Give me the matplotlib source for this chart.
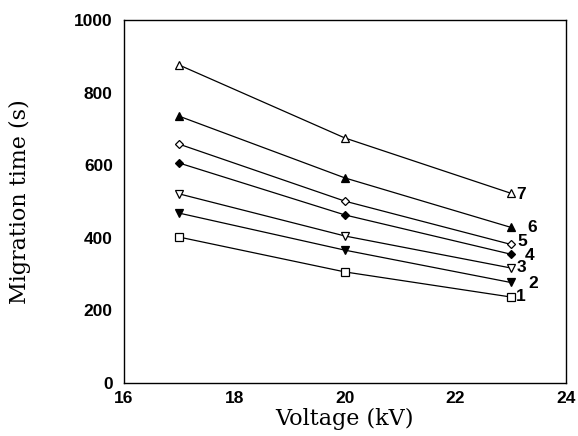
import matplotlib
matplotlib.use('Agg')
import matplotlib.pyplot as plt

###############################################################################
# Data
###############################################################################
voltage = [17, 20, 23]
series1 = [402, 306, 237]
series2 = [468, 366, 277]
series3 = [521, 405, 317]
series4 = [606, 463, 355]
series5 = [658, 501, 382]
series6 = [735, 565, 429]
series7 = [876, 675, 523]
labels = ['1', '2', '3', '4', '5', '6', '7']

###############################################################################
# Styles
###############################################################################
allSeries = [series1, series2, series3, series4, series5, series6, series7]
markers = ['s', 'v', 'v', 'D', 'D', '^', '^']
filled = [False, True, False, True, False, True, False]
msizes = [5.5, 6, 6, 4.5, 4.5, 6, 6]
# label offsets in points (dx, dy)
offsets = [(4, 0), (13, -1), (4, 0), (10, -1), (5, 2), (12, 0), (4, -1)]
tickFont = {'family': 'Liberation Sans', 'weight': 'bold', 'size': 12.5}
labFont = {'family': 'DejaVu Serif', 'size': 16}

###############################################################################
# Plot
###############################################################################
fig = plt.figure(figsize=(5.78, 4.36), dpi=100)
ax = fig.add_axes([0.2145, 0.1216, 0.7645, 0.8324])
for (i, ys) in enumerate(allSeries):
    ax.plot(
        voltage, ys, color='black', linewidth=0.9,
        marker=markers[i], markersize=msizes[i],
        markerfacecolor='black' if filled[i] else 'white',
        markeredgecolor='black', markeredgewidth=0.9
    )
    ax.annotate(
        labels[i], (voltage[-1], ys[-1]), xytext=offsets[i],
        textcoords='offset points', ha='left', va='center', **tickFont
    )
# Axes ------------------------------------------------------------------------
ax.set_xlim(16, 24)
ax.set_ylim(0, 1000)
ax.set_xticks([16, 18, 20, 22, 24])
ax.set_yticks([0, 200, 400, 600, 800, 1000])
ax.tick_params(axis='x', length=0, pad=6)
ax.tick_params(axis='y', length=0, pad=8)
for lab in ax.get_xticklabels() + ax.get_yticklabels():
    lab.set_fontfamily(tickFont['family'])
    lab.set_fontweight(tickFont['weight'])
    lab.set_fontsize(tickFont['size'])
ax.set_xlabel('Voltage (kV)', labelpad=1, **labFont)
ax.set_ylabel('Migration time (s)', labelpad=0, **labFont)
ax.yaxis.set_label_coords(-0.21, 0.5)
for sp in ax.spines.values():
    sp.set_linewidth(1.0)

fig.savefig('out.png', dpi=100)
